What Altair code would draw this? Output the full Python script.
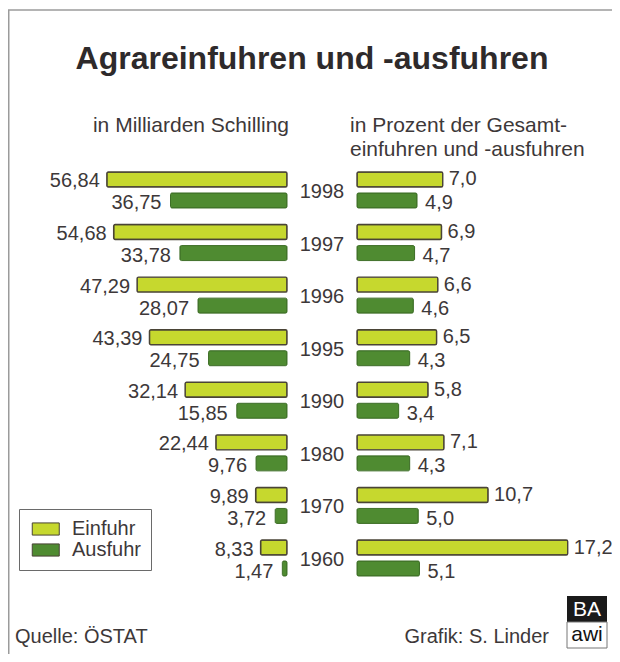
import altair as alt
import pandas as pd

# ---- data ----
years = ["1998", "1997", "1996", "1995", "1990", "1980", "1970", "1960"]
einfuhr_mrd = [56.84, 54.68, 47.29, 43.39, 32.14, 22.44, 9.89, 8.33]
ausfuhr_mrd = [36.75, 33.78, 28.07, 24.75, 15.85, 9.76, 3.72, 1.47]
einfuhr_pct = [7.0, 6.9, 6.6, 6.5, 5.8, 7.1, 10.7, 17.2]
ausfuhr_pct = [4.9, 4.7, 4.6, 4.3, 3.4, 4.3, 5.0, 5.1]
types = ["Einfuhr", "Ausfuhr"]
colors = ["#c6d82e", "#4f8b31"]


def de(v, d):
    return f"{v:.{d}f}".replace(".", ",")


rows = []
for i, yr in enumerate(years):
    rows.append(dict(year=yr, type="Einfuhr", mrd=einfuhr_mrd[i], pct=einfuhr_pct[i],
                     lm=de(einfuhr_mrd[i], 2), lp=de(einfuhr_pct[i], 1)))
    rows.append(dict(year=yr, type="Ausfuhr", mrd=ausfuhr_mrd[i], pct=ausfuhr_pct[i],
                     lm=de(ausfuhr_mrd[i], 2), lp=de(ausfuhr_pct[i], 1)))
df = pd.DataFrame(rows)
dfy = pd.DataFrame({"year": years})
one = pd.DataFrame({"k": [0]})

W, H = 604, 646
FONT = "Liberation Sans"
TXT = "#3d3839"

yscale = alt.Scale(type="band", domain=years, range=[155.7, 576.3], paddingInner=0, paddingOuter=0)
xl = alt.Scale(domain=[0, 60], range=[279, 88.8], nice=False)
xr = alt.Scale(domain=[0, 20], range=[349, 594], nice=False)
OFF = {"Einfuhr": -10.5, "Ausfuhr": 10.5}
STROKE = {"Einfuhr": ("#4a4436", 1.4), "Ausfuhr": ("#3e6f27", 1.0)}
FILL = dict(zip(types, colors))


def bars(kind, field, scale, legend=False):
    st, sw = STROKE[kind]
    props = dict(height=15, yOffset=OFF[kind], stroke=st, strokeWidth=sw, cornerRadius=1.5)
    if not legend:
        props["fill"] = FILL[kind]
    enc = dict(x=alt.X(f"{field}:Q", scale=scale, axis=None),
               y=alt.Y("year:N", scale=yscale, axis=None))
    if legend:
        enc["color"] = alt.Color(
            "type:N",
            scale=alt.Scale(domain=types, range=colors),
            legend=alt.Legend(
                title=None, orient="none", legendX=11, legendY=501,
                symbolType="M-1,-0.9H3V0.9H-1Z", symbolSize=182.25,
                symbolStrokeColor="#4a4436", symbolStrokeWidth=1, symbolOpacity=1,
                labelFont=FONT, labelFontSize=20, labelColor=TXT, labelOffset=23,
                padding=10, rowPadding=1, strokeColor="#6a6a6a",
            ),
        )
    return alt.Chart(df).transform_filter(alt.datum.type == kind).mark_bar(**props).encode(**enc)


def labels(kind, field, scale, lab, align, dx, dy):
    return (
        alt.Chart(df)
        .transform_filter(alt.datum.type == kind)
        .mark_text(align=align, baseline="middle", dx=dx, dy=dy, yOffset=OFF[kind],
                   font=FONT, fontSize=20, color=TXT)
        .encode(x=alt.X(f"{field}:Q", scale=scale, axis=None),
                y=alt.Y("year:N", scale=yscale, axis=None),
                text=f"{lab}:N")
    )


def note(text, x, y, size=20, align="left", weight="normal", color=TXT, baseline="middle"):
    return alt.Chart(one).mark_text(align=align, baseline=baseline, font=FONT, fontSize=size,
                                    fontWeight=weight, color=color).encode(
        x=alt.value(x), y=alt.value(y), text=alt.value(text))


frame_top = alt.Chart(one).mark_rule(color="#9b9b9b", strokeWidth=1.5).encode(
    x=alt.value(0), x2=alt.value(W), y=alt.value(2))
frame_left = alt.Chart(one).mark_rule(color="#9b9b9b", strokeWidth=1.5).encode(
    x=alt.value(0.75), y=alt.value(2), y2=alt.value(H))

logo_top = alt.Chart(one).mark_rect(color="#1a1a1a").encode(
    x=alt.value(559), x2=alt.value(599), y=alt.value(588), y2=alt.value(614))
logo_bot = alt.Chart(one).mark_rect(fill="white", stroke="#777777", strokeWidth=1).encode(
    x=alt.value(559), x2=alt.value(599), y=alt.value(614), y2=alt.value(640))

year_text = alt.Chart(dfy).mark_text(align="center", baseline="middle", dy=2, font=FONT,
                                     fontSize=20, color=TXT).encode(
    x=alt.value(314), y=alt.Y("year:N", scale=yscale, axis=None), text="year:N")

layers = [
    frame_top, frame_left,
    bars("Einfuhr", "mrd", xl, legend=True),
    bars("Ausfuhr", "mrd", xl),
    bars("Einfuhr", "pct", xr),
    bars("Ausfuhr", "pct", xr),
    labels("Einfuhr", "mrd", xl, "lm", "right", -7, 2),
    labels("Ausfuhr", "mrd", xl, "lm", "right", -9, 3),
    labels("Einfuhr", "pct", xr, "lp", "left", 6, 0),
    labels("Ausfuhr", "pct", xr, "lp", "left", 8, 3),
    year_text,
    note("Agrareinfuhren und -ausfuhren", 304, 61, size=32, align="center",
         weight="bold", color="#2e2a2b", baseline="alphabetic"),
    note("in Milliarden Schilling", 183, 118, size=21, align="center"),
    note("in Prozent der Gesamt-", 342, 118, size=21),
    note("einfuhren und -ausfuhren", 342, 142, size=21),
    note("Quelle: ÖSTAT", 7, 629),
    note("Grafik: S. Linder", 541, 629, align="right"),
    logo_top, logo_bot,
    note("BA", 579, 602, size=21, align="center", color="white"),
    note("awi", 579, 627, size=21, align="center", color="#111111"),
]

chart = (
    alt.layer(*layers)
    .resolve_scale(x="independent")
    .properties(width=W, height=H, padding=0, autosize=alt.AutoSizeParams(type="none"),
                background="white")
    .configure_view(strokeWidth=0)
    .configure_legend(strokeWidth=1)
)

chart.save("out.html", embed_options={"renderer": "svg", "actions": False})
